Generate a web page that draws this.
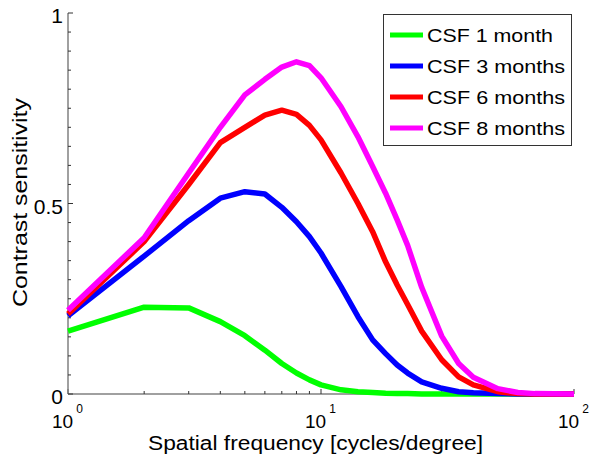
<!DOCTYPE html>
<html>
<head>
<meta charset="utf-8">
<script src="https://cdn.jsdelivr.net/npm/d3@7"></script>
<style>
  body { margin: 0; background: #fff; }
  text { font-family: "Liberation Sans", Arial, sans-serif; fill: #000; }
</style>
</head>
<body>
<div class="plot"></div>
<script>
const width = 589;
const height = 457;

// spatial frequency samples (cycles/degree)
const freqs = [1, 2, 3, 4, 5, 6, 7, 8, 9, 10, 12, 14, 16, 18, 20, 22, 25, 30, 35, 40, 50, 60, 70, 100];

const csf1 = [0.165, 0.228, 0.226, 0.19, 0.153, 0.115, 0.08, 0.055, 0.037, 0.024, 0.011, 0.006, 0.004, 0.002, 0.001, 0.001, 0, 0, 0, 0, 0, 0, 0, 0];
const csf3 = [0.205, 0.362, 0.455, 0.514, 0.531, 0.525, 0.49, 0.452, 0.413, 0.37, 0.282, 0.203, 0.142, 0.106, 0.076, 0.055, 0.032, 0.015, 0.006, 0.003, 0.001, 0, 0, 0];
const csf6 = [0.21, 0.40, 0.55, 0.66, 0.70, 0.732, 0.745, 0.734, 0.705, 0.667, 0.58, 0.50, 0.426, 0.347, 0.286, 0.235, 0.165, 0.09, 0.045, 0.024, 0.006, 0.001, 0, 0];
const csf8 = [0.22, 0.41, 0.58, 0.70, 0.785, 0.826, 0.858, 0.872, 0.862, 0.83, 0.754, 0.675, 0.597, 0.527, 0.457, 0.39, 0.28, 0.152, 0.08, 0.044, 0.014, 0.004, 0.001, 0];

const seriesNames = ["CSF 1 month", "CSF 3 months", "CSF 6 months", "CSF 8 months"];
const seriesValues = [csf1, csf3, csf6, csf8];
const seriesColors = ["#00ff00", "#0000ff", "#ff0000", "#ff00ff"];

const yTickLabels = [0, 0.5, 1];
const xTickLabels = [1, 10, 100];

const margin = { left: 68, right: 15, top: 13, bottom: 63 };

const svg = d3
    .select(".plot")
    .append("svg")
    .attr("width", width)
    .attr("height", height);

const xScale = d3
    .scaleLog()
    .domain([1, 100])
    .range([margin.left, width - margin.right]);

const yScale = d3
    .scaleLinear()
    .domain([0, 1])
    .range([height - margin.bottom, margin.top]);

const axisColor = "#808080";

// x axis: log ticks pointing inward
const xAxis = svg
    .append("g")
    .attr("transform", `translate(0, ${yScale(0)})`);

xAxis
    .append("line")
    .attr("x1", xScale(1))
    .attr("x2", xScale(100))
    .attr("stroke", axisColor)
    .attr("stroke-width", 1.5);

const xMinor = [];
for (let d = 1; d <= 10; d *= 10) {
    for (let k = 2; k <= 9; k++) xMinor.push(d * k);
}

xAxis
    .selectAll(".minor")
    .data(xMinor)
    .join("line")
    .attr("x1", (d) => xScale(d))
    .attr("x2", (d) => xScale(d))
    .attr("y1", 0)
    .attr("y2", -3)
    .attr("stroke", "#333")
    .attr("stroke-width", 1);

xAxis
    .selectAll(".major")
    .data(xTickLabels)
    .join("line")
    .attr("x1", (d) => xScale(d))
    .attr("x2", (d) => xScale(d))
    .attr("y1", 0)
    .attr("y2", -5)
    .attr("stroke", "#333")
    .attr("stroke-width", 1);

const xLabels = xAxis
    .selectAll(".lab")
    .data(xTickLabels)
    .join("text")
    .attr("x", (d) => xScale(d) - 16)
    .attr("y", 34)
    .style("font-size", "19px");

xLabels.append("tspan").text("10");
xLabels
    .append("tspan")
    .attr("dx", 3)
    .attr("dy", -15)
    .style("font-size", "12px")
    .text((d) => Math.round(Math.log10(d)));

// y axis: ticks every 0.05 pointing inward
const yAxis = svg
    .append("g")
    .attr("transform", `translate(${xScale(1)}, 0)`);

yAxis
    .append("line")
    .attr("y1", yScale(0))
    .attr("y2", yScale(1))
    .attr("stroke", axisColor)
    .attr("stroke-width", 1.5);

yAxis
    .selectAll(".tick")
    .data(d3.range(0, 21).map((i) => i * 0.05))
    .join("line")
    .attr("x1", 0)
    .attr("x2", (d, i) => (i % 10 === 0 ? 5 : 3))
    .attr("y1", (d) => yScale(d))
    .attr("y2", (d) => yScale(d))
    .attr("stroke", "#333")
    .attr("stroke-width", 1);

yAxis
    .selectAll(".lab")
    .data(yTickLabels)
    .join("text")
    .attr("x", -5)
    .attr("y", (d) => yScale(d) + 10)
    .attr("text-anchor", "end")
    .style("font-size", "21px")
    .text((d) => d);

// axis titles
svg.append("text")
    .attr("x", 148)
    .attr("y", 450)
    .attr("textLength", 335)
    .attr("lengthAdjust", "spacingAndGlyphs")
    .style("font-size", "20px")
    .text("Spatial frequency [cycles/degree]");

svg.append("text")
    .attr("transform", "translate(27, 307) rotate(-90)")
    .attr("textLength", 209)
    .attr("lengthAdjust", "spacingAndGlyphs")
    .style("font-size", "20px")
    .text("Contrast sensitivity");

// curves
const line = d3
    .line()
    .x((d) => xScale(d[0]))
    .y((d) => yScale(d[1]));

svg.append("g")
    .selectAll("path")
    .data(seriesValues)
    .join("path")
    .attr("d", (vals) => line(freqs.map((f, i) => [f, vals[i]])))
    .attr("fill", "none")
    .attr("stroke", (d, i) => seriesColors[i])
    .attr("stroke-width", 5.5)
    .attr("stroke-linejoin", "round");

// legend
const legend = svg.append("g");

legend
    .append("rect")
    .attr("x", 383.5)
    .attr("y", 14.5)
    .attr("width", 188)
    .attr("height", 131)
    .attr("fill", "#fff")
    .attr("stroke", "#333")
    .attr("stroke-width", 1);

const rows = legend
    .selectAll(".row")
    .data(seriesNames)
    .join("g")
    .attr("transform", (d, i) => `translate(0, ${35 + i * 31})`);

rows.append("line")
    .attr("x1", 390)
    .attr("x2", 423)
    .attr("stroke", (d, i) => seriesColors[i])
    .attr("stroke-width", 5);

rows.append("text")
    .attr("x", 427)
    .attr("y", 7)
    .attr("textLength", (d, i) => (i === 0 ? 126 : 138))
    .attr("lengthAdjust", "spacingAndGlyphs")
    .style("font-size", "19px")
    .text((d) => d);
</script>
</body>
</html>
